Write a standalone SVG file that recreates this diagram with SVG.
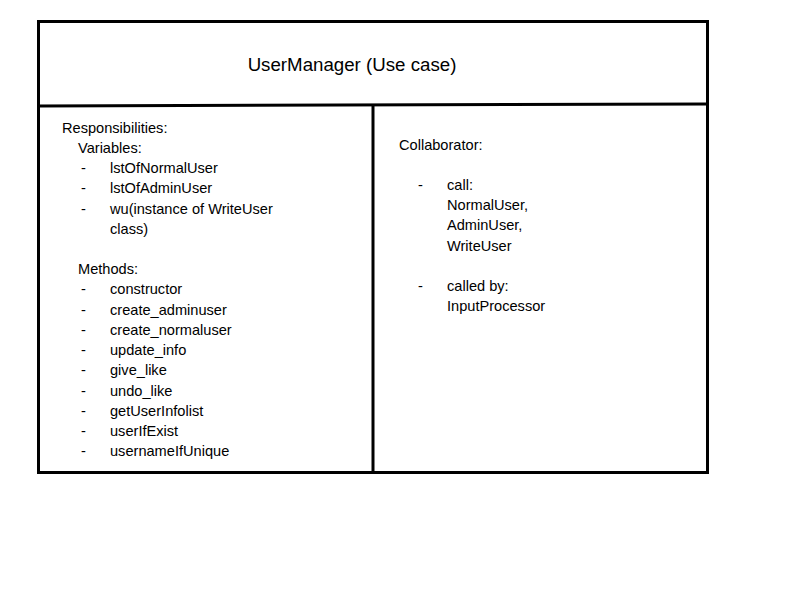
<svg xmlns="http://www.w3.org/2000/svg" width="800" height="600" viewBox="0 0 800 600">
<style>
.t{font-family:"Liberation Sans",Arial,sans-serif;font-size:14.6px;fill:#000}
.h{font-family:"Liberation Sans",Arial,sans-serif;font-size:18.7px;fill:#000}
.b{fill:none;stroke:#000;stroke-width:3}
</style>
<rect width="800" height="600" fill="#fff"/>
<g id="card">
<rect class="b" x="38.5" y="21.5" width="669" height="451"/>
<line class="b" x1="38" y1="106" x2="708" y2="104"/>
<line class="b" x1="373" y1="105" x2="373" y2="472"/>
</g>
<g id="title"><text class="h" x="352" y="71" text-anchor="middle">UserManager (Use case)</text></g>
<g id="responsibilities">
<text class="t" x="62" y="133">Responsibilities:</text>
<text class="t" x="78" y="153">Variables:</text>
<g class="t">
<text x="81" y="173">-</text><text x="110" y="173">lstOfNormalUser</text>
<text x="81" y="193">-</text><text x="110" y="193">lstOfAdminUser</text>
<text x="81" y="214">-</text><text x="110" y="214">wu(instance of WriteUser</text>
<text x="110" y="234">class)</text>
</g>
<text class="t" x="78" y="274">Methods:</text>
<g class="t">
<text x="81" y="294">-</text><text x="110" y="294">constructor</text>
<text x="81" y="315">-</text><text x="110" y="315">create_adminuser</text>
<text x="81" y="335">-</text><text x="110" y="335">create_normaluser</text>
<text x="81" y="355">-</text><text x="110" y="355">update_info</text>
<text x="81" y="375">-</text><text x="110" y="375">give_like</text>
<text x="81" y="396">-</text><text x="110" y="396">undo_like</text>
<text x="81" y="416">-</text><text x="110" y="416">getUserInfolist</text>
<text x="81" y="436">-</text><text x="110" y="436">userIfExist</text>
<text x="81" y="456">-</text><text x="110" y="456">usernameIfUnique</text>
</g>
</g>
<g id="collaborator" class="t">
<text x="399" y="150">Collaborator:</text>
<text x="418" y="190">-</text><text x="447" y="190">call:</text>
<text x="447" y="210">NormalUser,</text>
<text x="447" y="230">AdminUser,</text>
<text x="447" y="251">WriteUser</text>
<text x="418" y="291">-</text><text x="447" y="291">called by:</text>
<text x="447" y="311">InputProcessor</text>
</g>
</svg>
